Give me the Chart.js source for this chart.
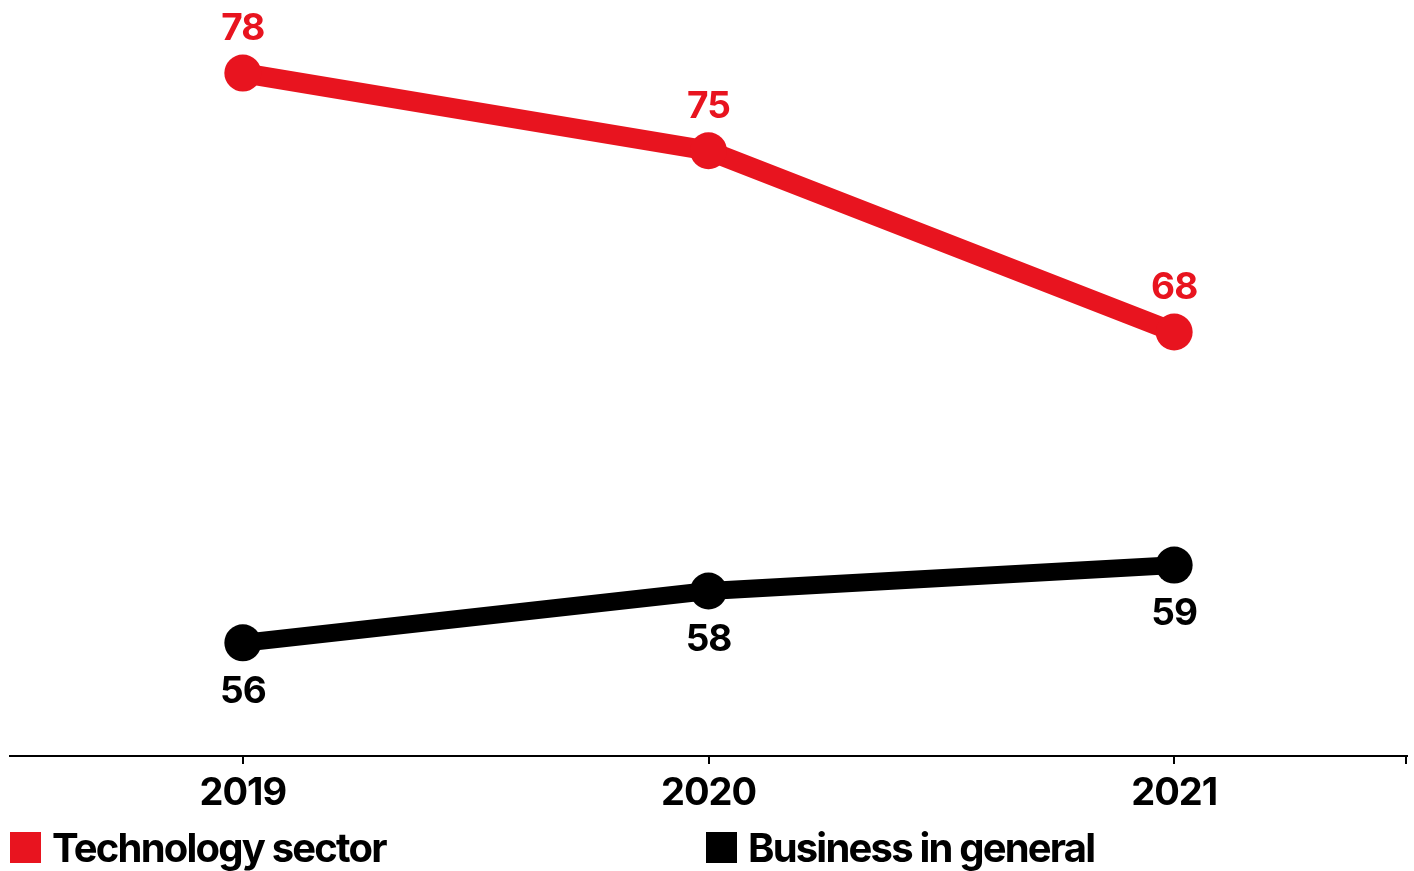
<!DOCTYPE html>
<html>
<head>
<meta charset="utf-8">
<script src="https://cdn.jsdelivr.net/npm/chart.js@4"></script>
<style>
  html, body { margin: 0; padding: 0; background: #fff; }
  #wrap { position: relative; width: 1414px; height: 871px; overflow: hidden; }
  canvas { position: absolute; left: 0; top: 0; }
  .leg { position: absolute; top: 824px; height: 46px; display: flex; align-items: center;
         font-family: Inter, sans-serif; font-weight: 700; font-size: 40px; letter-spacing: -1.8px; color: #000; white-space: nowrap; }
  .sw { width: 31px; height: 31px; margin-right: 11px; flex: none; }
</style>
</head>
<body>
<div id="wrap">
  <canvas id="c" width="1414" height="871"></canvas>
  <div class="leg" style="left:10px"><span class="sw" style="background:#E8141F"></span><span id="l1"></span></div>
  <div class="leg" style="left:706px"><span class="sw" style="background:#000"></span><span id="l2"></span></div>
</div>
<script>
const years = ['2019', '2020', '2021'];
const seriesNames = ['Technology sector', 'Business in general'];
const technology = [78, 75, 68];
const business = [56, 58, 59];
const RED = '#E8141F';

document.getElementById('l1').textContent = seriesNames[0];
document.getElementById('l2').textContent = seriesNames[1];

const labelPlugin = {
  id: 'valueLabels',
  beforeDraw(chart) { chart.ctx.letterSpacing = '-1px'; },
  afterDatasetsDraw(chart) {
    const ctx = chart.ctx;
    ctx.save();
    ctx.letterSpacing = '-1px';
    ctx.font = '700 37px Inter, sans-serif';
    ctx.textAlign = 'center';
    ctx.textBaseline = 'alphabetic';
    chart.data.datasets.forEach((ds, di) => {
      const meta = chart.getDatasetMeta(di);
      meta.data.forEach((pt, i) => {
        ctx.fillStyle = ds.borderColor;
        const above = di === 0;
        ctx.fillText(String(ds.data[i]), pt.x, above ? pt.y - 33 : pt.y + 60);
      });
    });
    // right-end tick on the x axis
    const xs = chart.scales.x;
    ctx.strokeStyle = '#000';
    ctx.lineWidth = 2;
    ctx.beginPath();
    ctx.moveTo(xs.right - 1, xs.top);
    ctx.lineTo(xs.right - 1, xs.top + 8);
    ctx.stroke();
    ctx.restore();
  }
};

new Chart(document.getElementById('c'), {
  type: 'line',
  data: {
    labels: years,
    datasets: [
      { label: seriesNames[0], data: technology, borderColor: RED, backgroundColor: RED,
        borderWidth: 20, pointRadius: 18.5, pointBackgroundColor: RED, pointBorderColor: RED, pointBorderWidth: 0, tension: 0, clip: false },
      { label: seriesNames[1], data: business, borderColor: '#000', backgroundColor: '#000',
        borderWidth: 18, pointRadius: 18.5, pointBackgroundColor: '#000', pointBorderColor: '#000', pointBorderWidth: 0, tension: 0, clip: false }
    ]
  },
  options: {
    responsive: false,
    animation: false,
    devicePixelRatio: 1,
    layout: { autoPadding: false, padding: { left: 10, right: 7, top: 0, bottom: 0 } },
    plugins: { legend: { display: false }, tooltip: { enabled: false } },
    scales: {
      x: {
        offset: true,
        grid: { display: true, drawOnChartArea: false, drawTicks: true, tickLength: 8, color: '#000', lineWidth: 2 },
        border: { display: true, color: '#000', width: 2 },
        ticks: { color: '#000', font: { family: 'Inter, sans-serif', weight: '700', size: 38 }, padding: 7, maxRotation: 0, autoSkip: false },
        afterFit(scale) { scale.height = 115; }
      },
      y: {
        display: false,
        min: 51.63,
        max: 80.82
      }
    }
  },
  plugins: [labelPlugin]
});
</script>
</body>
</html>
